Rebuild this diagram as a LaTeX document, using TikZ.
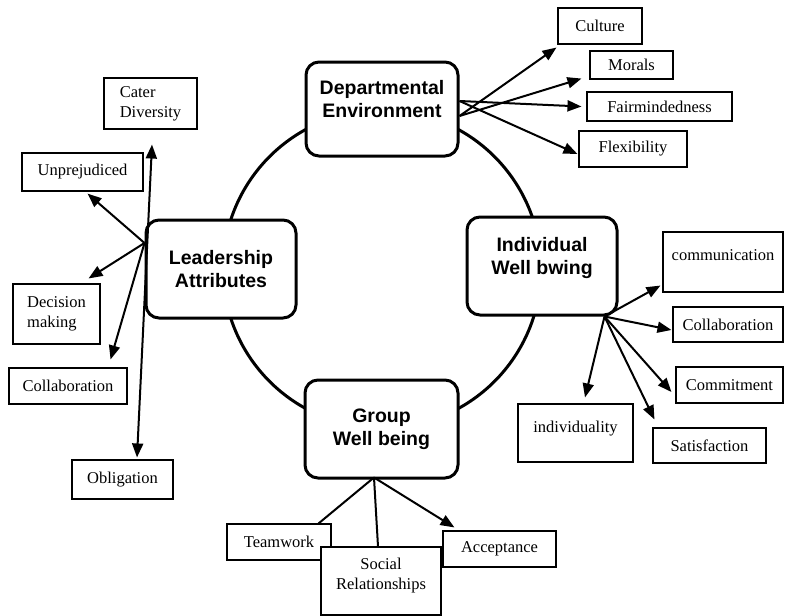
\documentclass[tikz,border=0pt]{standalone}
\usepackage{fontspec}
\setmainfont{Liberation Serif}
\newfontfamily\headfont{Liberation Sans}
\usetikzlibrary{arrows.meta, calc}

\begin{document}
\begin{tikzpicture}[x=1pt, y=-1pt,
  >={Triangle[length=14pt,width=11pt]},
  main/.style={draw, line width=3pt, rounded corners=13pt, fill=white, align=center,
    inner sep=0pt, font=\headfont\bfseries\fontsize{19.5}{23}\selectfont},
  sat/.style={draw, line width=1.1pt, fill=white, inner sep=0pt, align=center,
    font=\fontsize{16.5}{20}\selectfont},
  arr/.style={line width=2pt, ->},
  ln/.style={line width=2pt}]

        \useasboundingbox (0,0) rectangle (785,616);

        % the ring behind the four main boxes
        \draw[line width=3pt] (382,269) circle (159);

        \node[main, minimum width=152pt, minimum height=94pt, text depth=20pt] (depenv) at (382,109) {Departmental\\Environment};
        \node[main, minimum width=150pt, minimum height=98pt] (leadattr) at (221,269) {Leadership\\Attributes};
        \node[main, minimum width=150pt, minimum height=98pt, text depth=20pt] (indwell) at (542,266) {Individual\\Well bwing};
        \node[main, minimum width=153pt, minimum height=98pt] (grpwell) at (381.5,429) {Group\\Well being};

        % departmental environment
        \node[sat, minimum width=84pt, minimum height=36pt] (culture) at (600,26) {Culture};
        \node[sat, minimum width=83pt, minimum height=28pt] (morals) at (631.5,65) {Morals};
        \node[sat, minimum width=145pt, minimum height=29pt] (fair) at (659.5,106.5) {Fairmindedness};
        \node[sat, minimum width=108pt, minimum height=36pt] (flex) at (633,149) {Flexibility};

        % leadership attributes
        \node[sat, align=left, minimum width=93pt, minimum height=51pt] (cater) at (150.5,103.5) {Cater\\Diversity};
        \node[sat, minimum width=121pt, minimum height=38pt] (unprej) at (82.5,172) {Unprejudiced};
        \node[sat, align=left, minimum width=87pt, minimum height=60pt] (decision) at (56.5,314) {Decision\\making};
        \node[sat, minimum width=118pt, minimum height=36pt] (collabl) at (68,386) {Collaboration};
        \node[sat, minimum width=101pt, minimum height=39pt] (oblig) at (122.5,479.5) {Obligation};

        % individual well being
        \node[sat, minimum width=120pt, minimum height=60pt, text depth=14pt] (comm) at (723,262) {communication};
        \node[sat, minimum width=110pt, minimum height=35pt] (collabr) at (728,324.5) {Collaboration};
        \node[sat, minimum width=107pt, minimum height=36pt] (commit) at (729.5,385) {Commitment};
        \node[sat, minimum width=113pt, minimum height=35pt] (satis) at (709.5,445.5) {Satisfaction};
        \node[sat, minimum width=115pt, minimum height=58pt, text depth=13pt] (individ) at (575.5,433) {individuality};

        % group well being
        \node[sat, minimum width=104pt, minimum height=36pt] (team) at (279,542) {Teamwork};
        \node[sat, minimum width=120pt, minimum height=68pt, text depth=15pt] (social) at (381,581) {Social\\Relationships};
        \node[sat, minimum width=113pt, minimum height=36pt] (accept) at (499.5,549) {Acceptance};

        \coordinate (d1) at ($(depenv.east)+(0,-8)$);
        \coordinate (d2) at ($(depenv.east)+(0,7)$);
        \draw[arr] (d2) -- ($(culture.south west)+(-1,3)$);
        \draw[arr] (d2) -- ($(morals.south west)+(-8,-1)$);
        \draw[arr] (d1) -- ($(fair.west)+(-5,0)$);
        \draw[arr] (d1) -- ($(flex.west)+(-1,5)$);

        \coordinate (la) at ($(leadattr.west)+(0,-26)$);
        \draw[arr] (la) -- ($(unprej.south)+(5,2)$);
        \draw[arr] (la) -- ($(decision.north east)+(-12,-5)$);
        \draw[arr] (la) -- ($(collabl.north east)+(-17,-8)$);
        \draw[ln, <->] ($(cater.south)+(1.5,15)$) -- ($(oblig.north)+(14.5,-2)$);

        \coordinate (ia) at ($(indwell.south east)+(-14,0)$);
        \draw[arr] (ia) -- ($(comm.south west)+(-2,-7)$);
        \draw[arr] (ia) -- ($(collabr.west)+(-1,5.5)$);
        \draw[arr] (ia) -- ($(commit.west)+(-4,7)$);
        \draw[arr] (ia) -- ($(satis.north west)+(2,-8)$);
        \draw[arr] (ia) -- ($(individ.north)+(9.5,-6)$);

        \coordinate (ga) at ($(grpwell.south)+(-7.5,-2)$);
        \draw[ln] (ga) -- ($(team.north east)+(-13,0)$);
        \draw[ln] (ga) -- ($(social.north)+(-3,0)$);
        \draw[arr] (ga) -- ($(accept.north west)+(12,-3)$);

\end{tikzpicture}
\end{document}
